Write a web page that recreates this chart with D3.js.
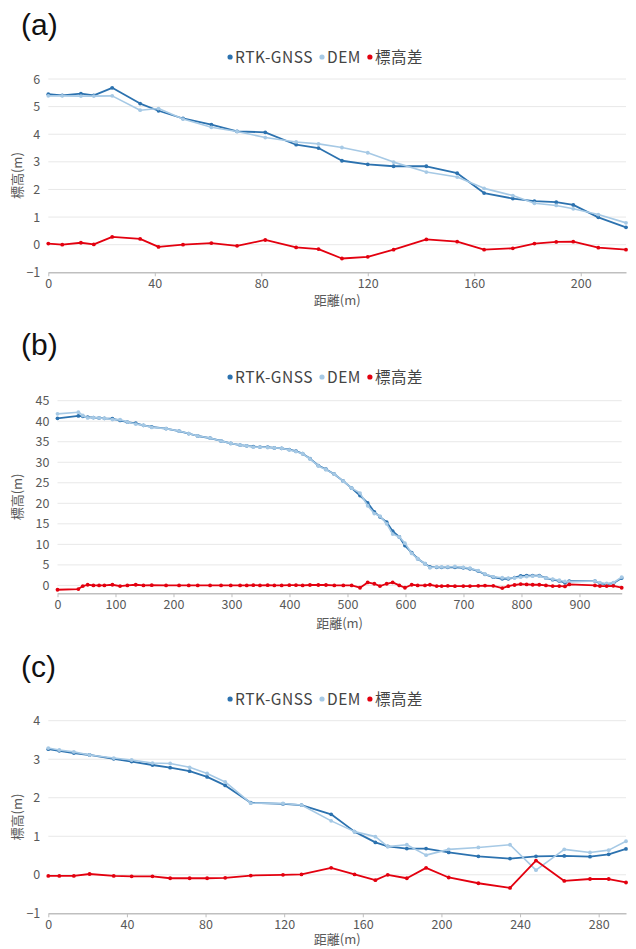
<!DOCTYPE html>
<html>
<head>
<meta charset="utf-8">
<script src="https://cdn.jsdelivr.net/npm/d3@7"></script>
<style>
  body { margin: 0; background: #fff; }
  #chart { width: 636px; height: 949px; }
</style>
</head>
<body>
<div id="chart"></div>
<script>
// series names
const SERIES = ['RTK-GNSS', 'DEM', '標高差'];

// (a)
const distA = [0, 5.25, 12.25, 17.1, 24, 34.5, 41.4, 50.6, 61.25, 70.9, 81.5, 93.1, 101.5, 110.3, 120, 129.7, 142, 153.6, 163.7, 174.5, 182.6, 190.8, 197.2, 206.6, 217];
const rtkA  = [5.45, 5.41, 5.47, 5.41, 5.68, 5.11, 4.85, 4.57, 4.35, 4.10, 4.07, 3.62, 3.50, 3.04, 2.91, 2.84, 2.84, 2.59, 1.87, 1.67, 1.58, 1.54, 1.44, 0.99, 0.63];
const demA  = [5.39, 5.39, 5.38, 5.38, 5.39, 4.87, 4.93, 4.55, 4.25, 4.10, 3.88, 3.72, 3.65, 3.52, 3.33, 2.99, 2.63, 2.45, 2.04, 1.78, 1.50, 1.42, 1.30, 1.09, 0.79];
const diffA = [0.04, 0.00, 0.07, 0.01, 0.28, 0.21, -0.08, 0.00, 0.06, -0.04, 0.17, -0.10, -0.16, -0.50, -0.44, -0.18, 0.19, 0.11, -0.18, -0.13, 0.04, 0.10, 0.11, -0.11, -0.18];

// (b)
const distB = [0, 36, 43.7, 52, 61.9, 71.7, 80.9, 94.7, 107.9, 120.5, 134.9, 148.2, 162.5, 187.2, 209.6, 226.3, 241.8, 263.1, 282, 298.7,
  314.8, 326.3, 337.6, 349.1, 362.4, 373.9, 386.5, 399.7, 411.2, 422.7, 435.3, 449.7, 462.9, 477.3, 492.8, 507.2, 521.6, 534.8, 546.3, 556,
  567.6, 577.9, 589.4, 599.1, 610.7, 621, 633.6, 642.2, 653.8, 662.4, 673, 685.3, 699.7, 711.2, 725.5, 737.1, 751.4, 766.9, 777.2, 788,
  798.6, 808.9, 819.3, 830.7, 842.2, 853.8, 865.2, 875, 882.4, 926.7, 935.3, 946.9, 958.4, 972.8];
const rtkB = [40.7, 41.3, 41.2, 41.0, 40.9, 40.8, 40.7, 40.6, 40.2, 39.8, 39.5, 39.0, 38.6, 38.2, 37.6, 37.0, 36.4, 35.9, 35.2, 34.6,
  34.2, 34.0, 33.8, 33.7, 33.7, 33.5, 33.4, 33.1, 32.7, 32.1, 30.9, 29.2, 28.3, 27.1, 25.4, 23.7, 21.9, 20.1, 17.9, 16.7,
  15.4, 13.2, 11.8, 9.7, 8.0, 6.5, 5.3, 4.5, 4.4, 4.4, 4.4, 4.4, 4.3, 4.06, 3.5, 2.7, 2.0, 1.62, 1.62, 1.9,
  2.3, 2.4, 2.4, 2.4, 1.8, 1.4, 1.1, 0.65, 1.06, 1.06, 0.5, 0.3, 0.55, 1.8];
const demB = [41.8, 42.2, 41.4, 40.8, 40.9, 40.8, 40.7, 40.4, 40.4, 39.8, 39.3, 39.0, 38.5, 38.2, 37.6, 37.0, 36.4, 35.9, 35.2, 34.6,
  34.2, 34.0, 33.7, 33.7, 33.6, 33.5, 33.4, 33.0, 32.6, 32.1, 30.8, 29.1, 28.2, 27.1, 25.4, 23.7, 22.5, 19.4, 17.5, 16.9,
  15.0, 12.5, 11.8, 10.3, 7.8, 6.5, 5.3, 4.3, 4.5, 4.5, 4.5, 4.6, 4.4, 4.2, 3.6, 2.75, 2.1, 1.87, 1.79, 1.8,
  2.0, 2.15, 2.25, 2.25, 1.8, 1.55, 1.25, 0.97, 0.85, 1.06, 0.66, 0.46, 0.65, 2.03];
const diffB = [-1.06, -0.9, -0.16, 0.16, 0, 0, 0, 0.16, -0.16, 0, 0.16, 0, 0.05, 0, 0, 0, 0, 0, 0, 0,
  0, 0, 0.05, 0, 0.05, 0, 0, 0.05, 0.05, 0, 0.1, 0.1, 0.1, 0, 0, 0, -0.57, 0.73, 0.4, -0.16,
  0.4, 0.73, 0, -0.57, 0.16, 0, 0, 0.16, -0.16, -0.16, -0.1, -0.2, -0.16, -0.16, -0.1, -0.05, -0.1, -0.65, -0.2, 0.1,
  0.32, 0.25, 0.16, 0.16, 0, -0.16, -0.16, -0.24, 0.24, 0, -0.16, -0.16, -0.1, -0.57];

// (c)
const distC = [0, 5.6, 13, 21, 33.3, 42.4, 53, 62, 71.9, 80.8, 90, 103, 119.4, 128.8, 143.9, 155.8, 166.4, 172.7, 182.4, 192.2, 203.7, 218.8, 234.9, 248.1, 262.5, 275.6, 285.1, 293.9];
const rtkC  = [3.26, 3.22, 3.16, 3.11, 3.01, 2.94, 2.85, 2.78, 2.69, 2.54, 2.32, 1.87, 1.84, 1.81, 1.57, 1.12, 0.84, 0.74, 0.68, 0.68, 0.58, 0.48, 0.42, 0.48, 0.49, 0.47, 0.53, 0.67];
const demC  = [3.29, 3.24, 3.19, 3.11, 3.03, 2.98, 2.90, 2.89, 2.79, 2.63, 2.41, 1.86, 1.85, 1.81, 1.40, 1.12, 0.99, 0.73, 0.78, 0.51, 0.66, 0.71, 0.78, 0.12, 0.66, 0.58, 0.64, 0.87];
const diffC = [-0.03, -0.03, -0.03, 0.02, -0.03, -0.04, -0.04, -0.09, -0.09, -0.09, -0.08, -0.02, 0.00, 0.01, 0.18, 0.01, -0.14, 0.00, -0.09, 0.18, -0.07, -0.22, -0.34, 0.37, -0.16, -0.11, -0.11, -0.20];

// tick values
const yTicksA = [-1, 0, 1, 2, 3, 4, 5, 6];
const xTicksA = [0, 40, 80, 120, 160, 200];
const yTicksB = [0, 5, 10, 15, 20, 25, 30, 35, 40, 45];
const xTicksB = [0, 100, 200, 300, 400, 500, 600, 700, 800, 900];
const yTicksC = [-1, 0, 1, 2, 3, 4];
const xTicksC = [0, 40, 80, 120, 160, 200, 240, 280];

// colours
const COLOR_RTK = '#2c72af', COLOR_DEM = '#a6c9e5', COLOR_DIFF = '#e3000f';
const COLOR_TEXT = '#595959', COLOR_GRID = '#e8e8e8', COLOR_AXIS = '#bfbfbf';
const FONT = '"Noto Sans CJK JP", "Noto Sans", sans-serif';

let svg = d3.select('#chart')
  .append('svg')
    .attr('width', 636)
    .attr('height', 949)
    .style('font-family', FONT);

svg.append('rect').attr('width', 636).attr('height', 949).attr('fill', '#fff');

function fmt(d) { return d < 0 ? '\u2212' + Math.abs(d) : String(d); }

function drawPanel(p) {
  let g = svg.append('g');

  let x = d3.scaleLinear()
    .domain([0, d3.max(p.dist)])
    .range([p.left, p.right]);

  let y = d3.scaleLinear()
    .domain([p.yMin, d3.max(p.yTicks)])
    .range([p.bottom, p.top]);

  // panel title
  g.append('text')
    .attr('x', 21).attr('y', p.titleY)
    .attr('font-family', '"Liberation Sans", Arial, sans-serif')
    .attr('font-size', 30).attr('fill', '#111')
    .text(p.label);

  // gridlines
  g.append('g').selectAll('line')
    .data(p.yTicks.filter(t => t > p.yMin))
    .join('line')
      .attr('x1', p.left).attr('x2', p.right)
      .attr('y1', d => y(d)).attr('y2', d => y(d))
      .attr('stroke', COLOR_GRID).attr('stroke-width', 1);

  // y axis (labels only)
  let yAxis = g.append('g')
    .attr('transform', 'translate(' + p.left + ',0)')
    .call(d3.axisLeft(y).tickValues(p.yTicks).tickSize(0).tickPadding(8).tickFormat(fmt));
  yAxis.select('.domain').remove();
  yAxis.selectAll('text').attr('fill', COLOR_TEXT).attr('font-size', 12.5).attr('font-family', FONT);

  // x axis
  let xAxis = g.append('g')
    .attr('transform', 'translate(0,' + p.bottom + ')')
    .call(d3.axisBottom(x).tickValues(p.xTicks).tickSize(4).tickSizeOuter(0).tickPadding(3));
  xAxis.select('.domain').attr('stroke', COLOR_AXIS).attr('stroke-width', 1.5);
  xAxis.selectAll('.tick line').attr('stroke', COLOR_AXIS);
  xAxis.selectAll('text').attr('fill', COLOR_TEXT).attr('font-size', 12.5).attr('font-family', FONT);

  // axis titles
  g.append('text')
    .attr('x', (p.left + p.right) / 2).attr('y', p.bottom + p.xTitleGap)
    .attr('text-anchor', 'middle').attr('font-size', 13).attr('fill', COLOR_TEXT)
    .text('距離(m)');

  g.append('text')
    .attr('transform', 'translate(22,' + ((p.top + p.bottom) / 2) + ') rotate(-90)')
    .attr('text-anchor', 'middle').attr('font-size', 13).attr('fill', COLOR_TEXT)
    .text('標高(m)');

  // series
  let series = [
    { values: p.rtk, color: COLOR_RTK, width: 1.8 },
    { values: p.dem, color: COLOR_DEM, width: 1.6 },
    { values: p.diff, color: COLOR_DIFF, width: 1.8 }
  ];

  let line = d3.line()
    .x(d => x(d[0]))
    .y(d => y(d[1]));

  series.forEach(s => {
    let pts = p.dist.map((d, i) => [d, s.values[i]]);
    g.append('path')
      .datum(pts)
      .attr('fill', 'none')
      .attr('stroke', s.color)
      .attr('stroke-width', s.width)
      .attr('stroke-linejoin', 'round')
      .attr('d', line);
    g.append('g').selectAll('circle')
      .data(pts)
      .join('circle')
        .attr('cx', d => x(d[0]))
        .attr('cy', d => y(d[1]))
        .attr('r', 1.9)
        .attr('fill', s.color);
  });

  // legend
  let colors = [COLOR_RTK, COLOR_DEM, COLOR_DIFF];
  let leg = g.append('g');
  let cx = 0;
  SERIES.forEach((name, i) => {
    leg.append('circle').attr('cx', cx + 3).attr('cy', 0).attr('r', 2.6).attr('fill', colors[i]);
    let t = leg.append('text')
      .attr('x', cx + 8).attr('y', 5.5)
      .attr('font-size', 15.5).attr('letter-spacing', 0.5).attr('fill', '#444')
      .text(name);
    cx += 8 + t.node().getComputedTextLength() + 6;
  });
  leg.attr('transform', 'translate(' + (328 - cx / 2) + ',' + p.legendY + ')');
}

drawPanel({ label: '(a)', dist: distA, rtk: rtkA, dem: demA, diff: diffA, yTicks: yTicksA, xTicks: xTicksA,
  yMin: -1, left: 48.3, right: 626, top: 79, bottom: 272.3, titleY: 35, legendY: 57, xTitleGap: 33 });

drawPanel({ label: '(b)', dist: distB, rtk: rtkB, dem: demB, diff: diffB, yTicks: yTicksB, xTicks: xTicksB,
  yMin: -1.9, left: 57.5, right: 621.7, top: 400.7, bottom: 593.2, titleY: 355, legendY: 377, xTitleGap: 35 });

drawPanel({ label: '(c)', dist: distC, rtk: rtkC, dem: demC, diff: diffC, yTicks: yTicksC, xTicks: xTicksC,
  yMin: -1, left: 48.3, right: 626, top: 720.7, bottom: 913.3, titleY: 677, legendY: 699, xTitleGap: 31 });
</script>
</body>
</html>
